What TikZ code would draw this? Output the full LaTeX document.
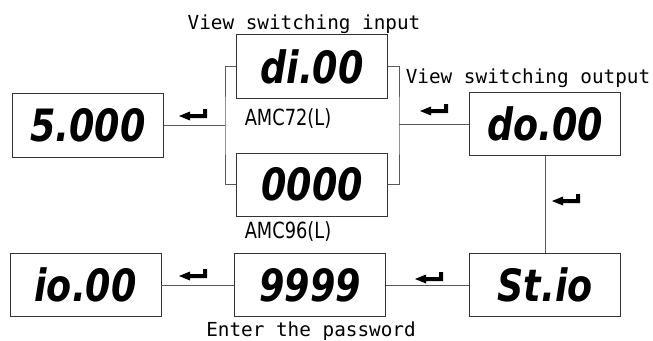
\documentclass[tikz,border=0pt]{standalone}
\usepackage{fontspec}
\usepackage{tikz}
\usetikzlibrary{positioning}
\newfontfamily\segfont{DejaVu Sans}
\newfontfamily\lblfont{DejaVu Sans Mono}
\newcommand{\seg}[1]{\scalebox{0.82}[1]{\segfont\bfseries\itshape\fontsize{38}{38}\selectfont #1}}
\newcommand{\narrow}[1]{\scalebox{0.8}[1]{#1}}

\begin{document}
\begin{tikzpicture}[x=0.03cm, y=-0.03cm, node distance=0.4cm,
    disp/.style={draw=black!80, line width=0.6pt, minimum width=4.53cm,
                 minimum height=1.9cm, inner sep=0pt},
    lbl/.style={font=\lblfont\fontsize{16.5}{18}\selectfont, inner sep=0pt, anchor=base},
    model/.style={font=\segfont\fontsize{19}{20}\selectfont, inner sep=0pt, anchor=base},
    wire/.style={draw=black!65, line width=0.6pt},
    enterkey/.pic={\fill (-14,0) -- (-3,-4.5) -- (-3,-2) -- (10,-2) -- (10,-7)
                     -- (14,-7) -- (14,2) -- (-3,2) -- (-3,4.5) -- cycle;}]
  \useasboundingbox (0,0) rectangle (653,340);

  % displays
  \node[disp] (val) at (88,125.5) {\seg{5.000}};
  \node[disp] (di) at (312,66.5) {\seg{di.00}};
  \node[disp, below=1.62cm of di] (code) {\seg{0000}};
  \node[disp] (dout) at (545,124) {\seg{do.00}};
  \node[disp, below=2.91cm of dout] (st) {\seg{St.io}};
  \node[disp, left=2.49cm of st] (pwd) {\seg{9999}};
  \node[disp, left=2.19cm of pwd] (io) {\seg{io.00}};

  % texts
  \node[lbl] (inlbl) at (304,30) {View switching input};
  \node[lbl] (outlbl) at (528,83) {View switching output};
  \node[model] (m72) at (288,125) {\narrow{AMC72(L)}};
  \node[model] (m96) at (288,238) {\narrow{AMC96(L)}};
  \node[lbl] (pwdlbl) at (311,336) {Enter the password};

  % connectors
  \coordinate (lbr) at (225,126);
  \coordinate (rbr) at (399,126);
  \draw[wire] (di.west) -| (lbr) |- (code.west);
  \draw[wire] (val.east) -- (val.east -| lbr);
  \draw[wire] (di.east) -| (rbr) |- (code.east);
  \draw[wire] (dout.west) -- (dout.west -| rbr);
  \draw[wire] (dout.south) -- (st.north);
  \draw[wire] (st.west) -- (pwd.east);
  \draw[wire] (pwd.west) -- (io.east);

  % enter keys
  \pic at (193,116) {enterkey};
  \pic at (434,111) {enterkey};
  \pic at (566,201) {enterkey};
  \pic at (429,279) {enterkey};
  \pic at (193,276) {enterkey};
\end{tikzpicture}
\end{document}
